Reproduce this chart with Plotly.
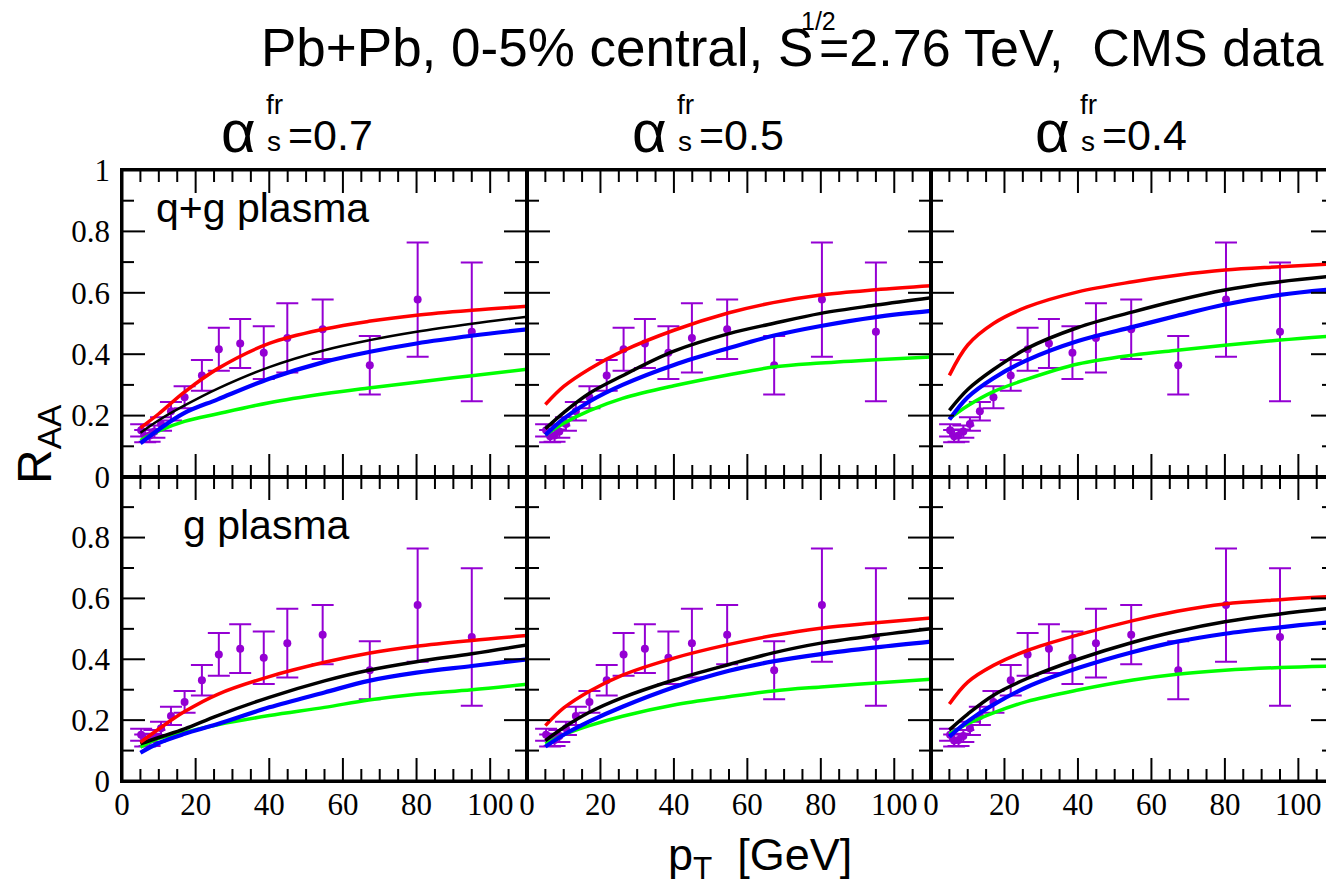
import plotly.graph_objects as go

# ---------------- data ----------------
PT_DATA = [5.2, 6.3, 7.5, 8.8, 10.6, 13.3, 17.0, 21.7, 26.3, 32.1, 38.5, 44.9, 54.5, 67.3, 80.3, 95.0]
RAA_DATA = [0.152, 0.133, 0.135, 0.148, 0.173, 0.214, 0.260, 0.331, 0.416, 0.435, 0.405, 0.453, 0.481, 0.364, 0.578, 0.473]
RAA_ERR = [0.020, 0.020, 0.020, 0.020, 0.022, 0.030, 0.036, 0.050, 0.070, 0.080, 0.086, 0.113, 0.097, 0.095, 0.186, 0.226]

PT_CURVE = [5, 10, 17, 26, 40, 55, 67, 80, 95, 110]

# q+g plasma, alpha=0.7
QG07_RED = [0.160, 0.206, 0.277, 0.353, 0.435, 0.482, 0.507, 0.527, 0.543, 0.556]
QG07_BLACK = [0.144, 0.185, 0.233, 0.288, 0.358, 0.413, 0.445, 0.473, 0.499, 0.522]
QG07_BLUE = [0.110, 0.155, 0.209, 0.253, 0.320, 0.375, 0.407, 0.435, 0.460, 0.481]
QG07_GREEN = [0.119, 0.150, 0.181, 0.206, 0.242, 0.271, 0.290, 0.309, 0.330, 0.351]
# q+g plasma, alpha=0.5
QG05_RED = [0.236, 0.295, 0.352, 0.410, 0.478, 0.535, 0.568, 0.593, 0.610, 0.623]
QG05_BLACK = [0.157, 0.210, 0.273, 0.330, 0.410, 0.467, 0.500, 0.533, 0.560, 0.584]
QG05_BLUE = [0.137, 0.190, 0.246, 0.300, 0.365, 0.420, 0.460, 0.492, 0.521, 0.541]
QG05_GREEN = [0.137, 0.175, 0.216, 0.256, 0.297, 0.333, 0.358, 0.371, 0.382, 0.391]
# q+g plasma, alpha=0.4
QG04_RED = [0.331, 0.430, 0.500, 0.553, 0.603, 0.636, 0.657, 0.674, 0.685, 0.695]
QG04_BLACK = [0.217, 0.285, 0.350, 0.418, 0.487, 0.538, 0.575, 0.609, 0.636, 0.655]
QG04_BLUE = [0.187, 0.260, 0.322, 0.380, 0.443, 0.489, 0.525, 0.562, 0.593, 0.612]
QG04_GREEN = [0.190, 0.232, 0.278, 0.318, 0.368, 0.397, 0.413, 0.429, 0.446, 0.460]
# g plasma, alpha=0.7
G07_RED = [0.127, 0.171, 0.228, 0.285, 0.343, 0.390, 0.420, 0.443, 0.462, 0.478]
G07_BLACK = [0.122, 0.143, 0.171, 0.215, 0.275, 0.329, 0.364, 0.392, 0.418, 0.447]
G07_BLUE = [0.093, 0.125, 0.155, 0.187, 0.242, 0.291, 0.329, 0.356, 0.378, 0.400]
G07_GREEN = [0.111, 0.140, 0.160, 0.185, 0.215, 0.242, 0.266, 0.285, 0.300, 0.318]
# g plasma, alpha=0.5
G05_RED = [0.182, 0.240, 0.295, 0.348, 0.404, 0.449, 0.478, 0.502, 0.520, 0.536]
G05_BLACK = [0.133, 0.176, 0.226, 0.274, 0.332, 0.383, 0.421, 0.453, 0.478, 0.500]
G05_BLUE = [0.113, 0.152, 0.196, 0.244, 0.308, 0.362, 0.393, 0.417, 0.439, 0.458]
G05_GREEN = [0.122, 0.152, 0.182, 0.213, 0.250, 0.277, 0.296, 0.309, 0.322, 0.334]
# g plasma, alpha=0.4
G04_RED = [0.253, 0.325, 0.380, 0.428, 0.480, 0.527, 0.558, 0.582, 0.596, 0.607]
G04_BLACK = [0.168, 0.220, 0.282, 0.336, 0.400, 0.456, 0.492, 0.523, 0.549, 0.569]
G04_BLUE = [0.146, 0.196, 0.251, 0.308, 0.371, 0.424, 0.458, 0.484, 0.505, 0.523]
G04_GREEN = [0.155, 0.188, 0.224, 0.261, 0.299, 0.332, 0.351, 0.364, 0.373, 0.378]

ALPHA_LABELS = ["0.7", "0.5", "0.4"]
PLASMA_LABELS = ["q+g plasma", "g plasma"]

# axis tick positions
X_MAJOR = [0, 20, 40, 60, 80, 100]
X_MINOR = [5, 10, 15, 25, 30, 35, 45, 50, 55, 65, 70, 75, 85, 90, 95, 105]
Y_MAJOR = [0.2, 0.4, 0.6, 0.8]
Y_MINOR = [0.1, 0.3, 0.5, 0.7, 0.9]

PANELS = [
    [QG07_GREEN, QG07_BLUE, QG07_BLACK, QG07_RED],
    [QG05_GREEN, QG05_BLUE, QG05_BLACK, QG05_RED],
    [QG04_GREEN, QG04_BLUE, QG04_BLACK, QG04_RED],
    [G07_GREEN, G07_BLUE, G07_BLACK, G07_RED],
    [G05_GREEN, G05_BLUE, G05_BLACK, G05_RED],
    [G04_GREEN, G04_BLUE, G04_BLACK, G04_RED],
]
LINE_COLORS = ["#00ff00", "#0000ff", "#000000", "#ff0000"]
LINE_WIDTHS = [3.5, 4.2, 3.5, 3.5]

# ---------------- geometry ----------------
OFF = 8                      # default page body margin
SW, SH = 1334, 886           # screen size
W, H = SW - OFF, SH - OFF    # figure size
XPX = [(122, 527), (527, 931), (931, 1334)]
YPX = [(170, 477), (477, 781)]
XRANGES = [[0, 110], [0, 110], [0, 109.7]]
MAJOR_LEN, MINOR_LEN = 23, 12
SANS = "Liberation Sans, Arial, sans-serif"
SERIF = "Liberation Serif, Times New Roman, serif"
PURPLE = "#9400d3"


def fx(px):
    return (px - OFF) / W


def fy(py):
    return 1 - (py - OFF) / H


fig = go.Figure()
layout = dict(template="none", width=W, height=H, margin=dict(l=0, r=0, t=0, b=0, pad=0),
              autosize=False,
              paper_bgcolor="white", plot_bgcolor="rgba(0,0,0,0)", showlegend=False)

for p in range(6):
    row, col = divmod(p, 3)
    n = p + 1
    xa = "x" if n == 1 else f"x{n}"
    ya = "y" if n == 1 else f"y{n}"
    x0, x1 = XPX[col]
    y0, y1 = YPX[row]
    wpx = min(x1, SW) - x0
    hpx = y1 - y0
    xr = XRANGES[col]
    yr = [0, 1] if row == 0 else [0, 0.999]

    fig.add_trace(go.Scatter(
        x=PT_DATA, y=RAA_DATA, xaxis=xa, yaxis=ya, mode="markers",
        marker=dict(color=PURPLE, size=8),
        error_y=dict(type="data", array=RAA_ERR, color=PURPLE, thickness=2, width=11),
        cliponaxis=True, hoverinfo="skip"))
    for ci, series in enumerate(PANELS[p]):
        lw = LINE_WIDTHS[ci]
        if p == 0 and ci == 2:
            lw = 2.5
        fig.add_trace(go.Scatter(
            x=PT_CURVE, y=series, xaxis=xa, yaxis=ya, mode="lines",
            line=dict(color=LINE_COLORS[ci], width=lw, shape="spline", smoothing=1.0)))

    # inside tick marks on all four sides, in the panel's own axis units
    tx, ty = [], []
    for vals, ln in ((X_MAJOR, MAJOR_LEN), (X_MINOR, MINOR_LEN)):
        d = ln / hpx * (yr[1] - yr[0])
        for v in vals:
            tx += [v, v, None, v, v, None]
            ty += [yr[0], yr[0] + d, None, yr[1] - d, yr[1], None]
    for vals, ln in ((Y_MAJOR, MAJOR_LEN), (Y_MINOR, MINOR_LEN)):
        d = ln / wpx * (xr[1] - xr[0])
        for v in vals:
            tx += [xr[0], xr[0] + d, None, xr[1] - d, xr[1], None]
            ty += [v, v, None, v, v, None]
    fig.add_trace(go.Scatter(x=tx, y=ty, xaxis=xa, yaxis=ya, mode="lines",
                             line=dict(color="black", width=2), hoverinfo="skip",
                             connectgaps=False, cliponaxis=False))

    xkey = "xaxis" if n == 1 else f"xaxis{n}"
    ykey = "yaxis" if n == 1 else f"yaxis{n}"
    layout[xkey] = dict(
        domain=[fx(x0), min(1.0, fx(x1))], anchor=ya, range=xr, automargin=False,
        tickmode="linear", tick0=0, dtick=20, ticks="",
        showticklabels=(row == 1),
        showline=True, linecolor="black", linewidth=1.6, mirror=True,
        showgrid=False, zeroline=False,
        tickfont=dict(family=SERIF, size=31, color="black"), ticklabelstandoff=-5)
    layout[ykey] = dict(
        domain=[fy(y1), fy(y0)], anchor=xa, automargin=False, range=yr,
        tickmode="linear", tick0=0, dtick=0.2, ticks="",
        showticklabels=(col == 0),
        showline=True, linecolor="black", linewidth=1.6, mirror=True,
        showgrid=False, zeroline=False,
        tickfont=dict(family=SERIF, size=31, color="black"), ticklabelstandoff=4)

# outer frame of the whole panel grid
shapes = [dict(type="rect", xref="paper", yref="paper",
               x0=fx(XPX[0][0]), x1=1.0, y0=fy(YPX[1][1]), y1=fy(YPX[0][0]),
               line=dict(color="black", width=3), fillcolor="rgba(0,0,0,0)", layer="above")]

annotations = []


def ann(text, px, py, size, xanchor="left", family=SANS, angle=0):
    annotations.append(dict(text=text, x=fx(px), y=fy(py), xref="paper", yref="paper",
                            xanchor=xanchor, yanchor="middle", showarrow=False, textangle=angle,
                            font=dict(family=family, size=size, color="black")))


# main title
ann("Pb+Pb, 0-5% central, S", 815, 48, 53, xanchor="right")
ann("1/2", 818, 21, 25, xanchor="center")
ann("=2.76 TeV,\u00a0\u00a0CMS data", 817, 48, 52, xanchor="left")

# panel titles
for col, lab in enumerate(ALPHA_LABELS):
    ax0 = [219, 630, 1033][col]
    ann("\u03b1", ax0, 131, 60)
    ann("fr", ax0 + 45, 104, 28)
    ann("s", ax0 + 46, 142, 28)
    ann("=" + lab, ax0 + 67, 135, 43)

ann(PLASMA_LABELS[0], 154, 208, 41)
ann(PLASMA_LABELS[1], 181, 525, 41)

ann("R<sub>AA</sub>", 38, 444, 48, xanchor="center", angle=-90)
ann("p<sub>T</sub>\u00a0\u00a0[GeV]", 760, 857, 45, xanchor="center")

layout["annotations"] = annotations
layout["shapes"] = shapes
fig.update_layout(**layout)
fig.write_html("out.html")
